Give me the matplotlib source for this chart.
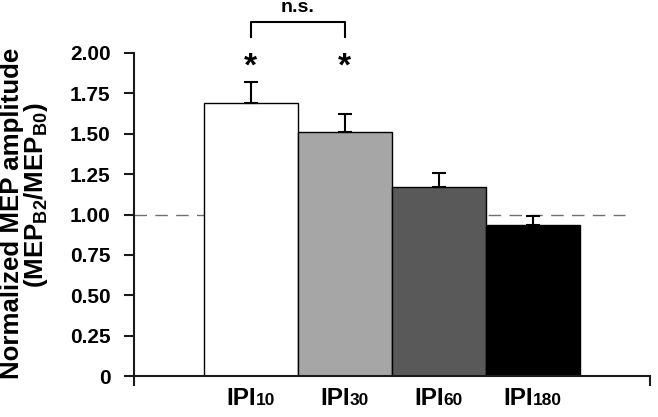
import matplotlib
matplotlib.use("Agg")
import matplotlib.pyplot as plt
from matplotlib.ticker import FuncFormatter
from matplotlib.transforms import offset_copy

plt.rcParams['font.family'] = ['Liberation Sans', 'DejaVu Sans']
plt.rcParams['mathtext.fontset'] = 'custom'
plt.rcParams['mathtext.rm'] = 'Liberation Sans:bold'
plt.rcParams['mathtext.bf'] = 'Liberation Sans:bold'
plt.rcParams['mathtext.it'] = 'Liberation Sans:bold'

# data
categories = ["IPI", "IPI", "IPI", "IPI"]
subscripts = ["10", "30", "60", "180"]
means = [1.69, 1.51, 1.17, 0.935]
sems = [0.13, 0.11, 0.09, 0.055]
colors = ["#ffffff", "#a6a6a6", "#595959", "#000000"]
yticks = [0, 0.25, 0.5, 0.75, 1.0, 1.25, 1.5, 1.75, 2.0]
sig_stars = ["*", "*", "", ""]

W, H = 658, 417
fig = plt.figure(figsize=(W / 100, H / 100), dpi=100)
ax = fig.add_axes([134 / W, 1 - 376 / H, (650 - 134) / W, (376 - 53) / H])

x = list(range(len(means)))
ax.bar(x, means, width=1.0, color=colors, edgecolor="black", linewidth=1.0, zorder=2)
ax.errorbar(x, means, yerr=[[0] * len(sems), sems], fmt="none", ecolor="black",
            elinewidth=1.5, capsize=5, capthick=1.5, zorder=3)

xl = (-1.24, 4.25)
ax.set_xlim(*xl)
ax.set_ylim(0, 2.0)
ax.axhline(1.0, xmin=0, xmax=(3.98 - xl[0]) / (xl[1] - xl[0]), color="#6f6f6f",
           linewidth=1.0, dashes=(9, 6), zorder=1)

for s in ["top", "right"]:
    ax.spines[s].set_visible(False)
for s in ["left", "bottom"]:
    ax.spines[s].set_linewidth(1.5)
    ax.spines[s].set_color("#1a1a1a")

ax.set_yticks(yticks)
ax.yaxis.set_major_formatter(FuncFormatter(lambda v, p: "0" if v == 0 else f"{v:.2f}"))
ax.tick_params(axis="y", direction="out", length=7, width=1.5, pad=10,
               labelsize=15, color="#1a1a1a")
for lbl in ax.get_yticklabels():
    lbl.set_fontweight("bold")
ax.set_xticks([xl[0], xl[1]])
ax.set_xticklabels(["", ""])
ax.tick_params(axis="x", direction="out", length=7, width=1.5, color="#1a1a1a")

# significance marks
for xi, s in zip(x, sig_stars):
    if s:
        ax.text(xi, 1.86, s, ha="center", va="baseline", fontsize=24,
                fontweight="bold", clip_on=False)
ax.plot([0, 0, 1, 1], [2.10, 2.19, 2.19, 2.10], color="black", linewidth=1.5,
        clip_on=False)
ax.text(0.5, 2.254, "n.s.", ha="center", va="baseline", fontsize=14,
        fontweight="bold", clip_on=False)

# x labels: big "IPI" + smaller number on same baseline
trans = ax.get_xaxis_transform()
base_y = (376 - 405) / (376 - 53)
fig.canvas.draw()
r = fig.canvas.get_renderer()
for xi, c, sub in zip(x, categories, subscripts):
    t1 = ax.text(xi, base_y, c, ha="left", va="baseline", fontsize=17.5,
                 fontweight="bold", transform=trans)
    t2 = ax.text(xi, base_y, sub, ha="left", va="baseline", fontsize=12.5,
                 fontweight="bold", transform=trans)
    w1 = t1.get_window_extent(r).width
    w2 = t2.get_window_extent(r).width
    tot = (w1 + w2) * 72 / fig.dpi
    t1.set_transform(offset_copy(trans, fig=fig, x=-tot / 2, y=0, units="points"))
    t2.set_transform(offset_copy(trans, fig=fig, x=-tot / 2 + w1 * 72 / fig.dpi,
                                 y=0, units="points"))

# y label (two lines)
fig.text(12 / W, 1 - 213 / H, "Normalized MEP amplitude", rotation=90,
         ha="center", va="center", fontsize=18.6, fontweight="bold")
fig.text(36 / W, 1 - 195 / H, r"(MEP$_{\mathrm{B2}}$/MEP$_{\mathrm{B0}}$)", rotation=90,
         ha="center", va="center", fontsize=18.6, fontweight="bold")

fig.savefig("out.png", dpi=100)
